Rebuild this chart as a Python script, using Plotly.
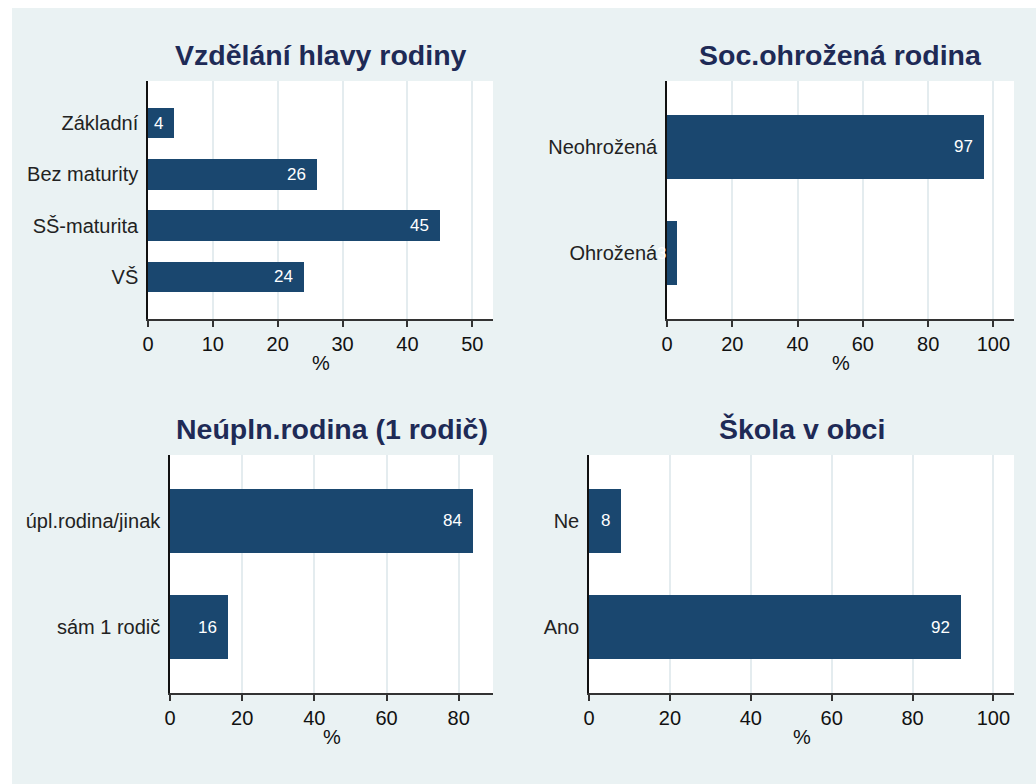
import plotly.graph_objects as go

W, H = 1036, 784

# --- data -------------------------------------------------------------
edu_cats = ["Základní", "Bez maturity", "SŠ-maturita", "VŠ"]
edu_vals = [4, 26, 45, 24]

soc_cats = ["Neohrožená", "Ohrožená"]
soc_vals = [97, 3]

single_cats = ["úpl.rodina/jinak", "sám 1 rodič"]
single_vals = [84, 16]

school_cats = ["Ne", "Ano"]
school_vals = [8, 92]

titles = ["Vzdělání hlavy rodiny", "Soc.ohrožená rodina",
          "Neúpln.rodina (1 rodič)", "Škola v obci"]

# --- styling ------------------------------------------------------------
BG = "#eaf2f3"
BAR = "#1a476f"
TITLE_C = "#1e2a56"
GRID = "#e4ecef"
FONT = "Liberation Sans, Arial, sans-serif"


def px_x(p):
    return p / W


def px_y(p):
    return 1 - p / H


# panel boxes in pixels: (left, right, top, bottom), x range max, dtick, pad, bar width
panels = [
    dict(cats=edu_cats, vals=edu_vals, box=(148, 493, 81, 319), xmax=53.2, dtick=10, pad=0.82, bw=0.594),
    dict(cats=soc_cats, vals=soc_vals, box=(667, 1014, 81, 319), xmax=106.3, dtick=20, pad=0.615, bw=0.6),
    dict(cats=single_cats, vals=single_vals, box=(170, 493, 455, 693), xmax=89.5, dtick=20, pad=0.615, bw=0.6),
    dict(cats=school_cats, vals=school_vals, box=(589, 1014, 455, 693), xmax=105.1, dtick=20, pad=0.615, bw=0.6),
]

fig = go.Figure()
annotations = []
layout_axes = {}

for i, p in enumerate(panels):
    n = i + 1
    xa = "x" if n == 1 else f"x{n}"
    ya = "y" if n == 1 else f"y{n}"
    l, r, t, b = p["box"]
    ypos = list(range(len(p["cats"])))

    fig.add_trace(go.Bar(
        x=p["vals"], y=ypos, orientation="h", width=p["bw"],
        marker=dict(color=BAR, line=dict(width=0)),
        xaxis=xa, yaxis=ya, showlegend=False, hoverinfo="skip",
    ))

    # value labels at the inner end of each bar
    for v, yy in zip(p["vals"], ypos):
        annotations.append(dict(
            x=v, y=yy, xref=xa, yref=ya, text=f"{v:.0f}",
            xanchor="right", yanchor="middle", xshift=-9, showarrow=False,
            font=dict(family=FONT, size=17, color="white"),
        ))

    # panel title
    annotations.append(dict(
        x=px_x((l + r) / 2), y=px_y(t - 8), xref="paper", yref="paper",
        text=titles[i], xanchor="center", yanchor="bottom", showarrow=False,
        font=dict(family=FONT, size=28.5, color=TITLE_C, weight="bold"),
    ))

    # x axis title
    annotations.append(dict(
        x=px_x((l + r) / 2), y=px_y(b + 44), xref="paper", yref="paper",
        text="%", xanchor="center", yanchor="middle", showarrow=False,
        font=dict(family=FONT, size=20, color="#111111"),
    ))

    xkey = "xaxis" if n == 1 else f"xaxis{n}"
    ykey = "yaxis" if n == 1 else f"yaxis{n}"
    layout_axes[xkey] = dict(
        domain=[px_x(l), px_x(r)], anchor=ya, range=[0, p["xmax"]],
        dtick=p["dtick"], tick0=0, showgrid=True, gridcolor=GRID, gridwidth=1.5,
        zeroline=False, showline=True, linecolor="#333333", linewidth=1.5,
        ticks="outside", ticklen=6, tickwidth=1.5, tickcolor="#333333",
        tickfont=dict(family=FONT, size=20, color="#111111"),
        automargin=False, fixedrange=True,
    )
    layout_axes[ykey] = dict(
        domain=[px_y(b), px_y(t)], anchor=xa,
        range=[len(p["cats"]) - 1 + p["pad"], -p["pad"]],
        tickvals=ypos, ticktext=p["cats"], showgrid=False, zeroline=False,
        showline=True, linecolor="#111111", linewidth=1.5, ticks="",
        ticklabelstandoff=4,
        tickfont=dict(family=FONT, size=20, color="#222222"),
        automargin=False, fixedrange=True,
    )

# white strips along the top and left edges of the page
shapes = [
    dict(type="rect", xref="paper", yref="paper", x0=0, x1=px_x(12), y0=0, y1=1,
         fillcolor="white", line=dict(width=0), layer="above"),
    dict(type="rect", xref="paper", yref="paper", x0=0, x1=1, y0=px_y(8), y1=1,
         fillcolor="white", line=dict(width=0), layer="above"),
]

fig.update_layout(
    width=W, height=H, autosize=False,
    margin=dict(l=0, r=0, t=0, b=0, pad=0, autoexpand=False),
    paper_bgcolor=BG, plot_bgcolor="white",
    annotations=annotations, shapes=shapes,
    bargap=0, **layout_axes,
)

fig.write_html("out.html")
